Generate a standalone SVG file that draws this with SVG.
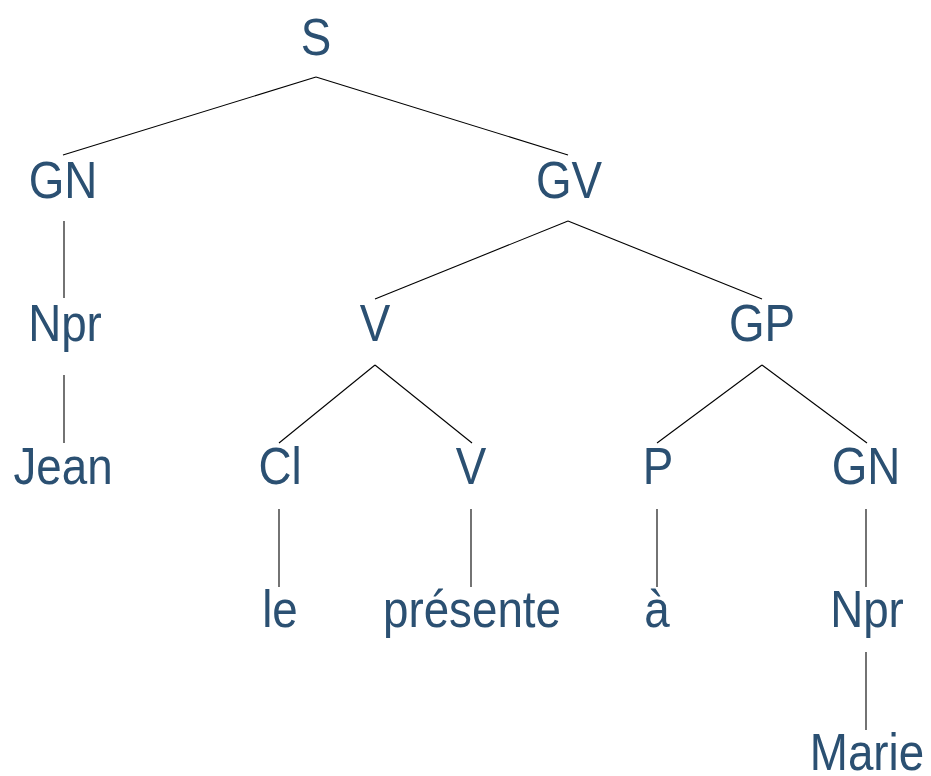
<svg xmlns="http://www.w3.org/2000/svg" width="931" height="776" viewBox="0 0 931 776">
<style>
text{font-family:"Liberation Sans",Arial,sans-serif;font-size:52px;fill:#2b5072;text-anchor:middle}
.e line{stroke:#000;stroke-width:1.1}
</style>
<rect width="931" height="776" fill="#fff"/>
<g class="e" id="connectors">
<line x1="316" y1="77" x2="63" y2="155"/>
<line x1="316" y1="77" x2="568" y2="155"/>
<line x1="64" y1="221" x2="64" y2="298"/>
<line x1="64" y1="375" x2="64" y2="443"/>
<line x1="568" y1="221" x2="375" y2="299"/>
<line x1="568" y1="221" x2="762" y2="299"/>
<line x1="375" y1="365" x2="279" y2="443"/>
<line x1="375" y1="365" x2="472" y2="443"/>
<line x1="762" y1="365" x2="657" y2="443"/>
<line x1="762" y1="365" x2="867" y2="443"/>
<line x1="279" y1="509" x2="279" y2="587"/>
<line x1="471" y1="509" x2="471" y2="587"/>
<line x1="657" y1="509" x2="657" y2="587"/>
<line x1="866" y1="509" x2="866" y2="587"/>
<line x1="866" y1="652" x2="866" y2="730"/>
</g>
<g id="n-S"><text transform="translate(316,55) scale(0.88,1)">S</text></g>
<g id="n-GN1"><text transform="translate(63,198) scale(0.88,1)">GN</text></g>
<g id="n-GV"><text transform="translate(569,198) scale(0.88,1)">GV</text></g>
<g id="n-Npr1"><text transform="translate(65,341) scale(0.88,1)">Npr</text></g>
<g id="n-V1"><text transform="translate(375,341) scale(0.88,1)">V</text></g>
<g id="n-GP"><text transform="translate(762,341) scale(0.88,1)">GP</text></g>
<g id="n-Jean"><text transform="translate(63,484) scale(0.88,1)">Jean</text></g>
<g id="n-Cl"><text transform="translate(280,484) scale(0.88,1)">Cl</text></g>
<g id="n-V2"><text transform="translate(471,484) scale(0.88,1)">V</text></g>
<g id="n-P"><text transform="translate(658,484) scale(0.88,1)">P</text></g>
<g id="n-GN2"><text transform="translate(866,484) scale(0.88,1)">GN</text></g>
<g id="n-le"><text transform="translate(280,627) scale(0.88,1)">le</text></g>
<g id="n-presente"><text transform="translate(472,627) scale(0.88,1)">présente</text></g>
<g id="n-a"><text transform="translate(657,627) scale(0.88,1)">à</text></g>
<g id="n-Npr2"><text transform="translate(867,627) scale(0.88,1)">Npr</text></g>
<g id="n-Marie"><text transform="translate(867,770) scale(0.88,1)">Marie</text></g>
</svg>
